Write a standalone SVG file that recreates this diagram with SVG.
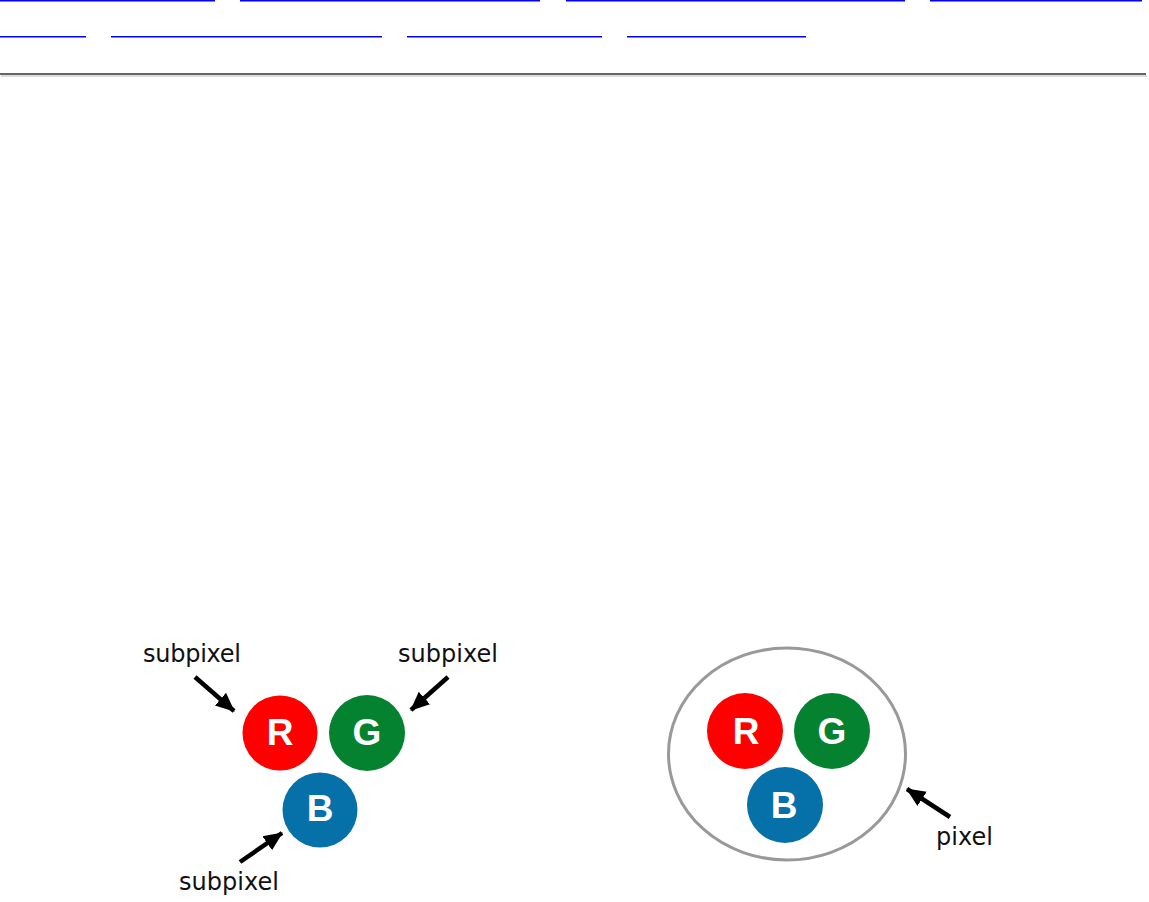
<svg xmlns="http://www.w3.org/2000/svg" width="1149" height="902" viewBox="0 0 1149 902">
  <style>
    .link { fill: #0000ff; }
    .lbl { font-family: "DejaVu Sans", "Liberation Sans", sans-serif; font-size: 24px; fill: #111111; }
    .let { font-family: "Liberation Sans", "DejaVu Sans", sans-serif; font-weight: bold; font-size: 37px; fill: #ffffff; text-anchor: middle; }
    .r { fill: #ff0000; }
    .g { fill: #05822f; }
    .b { fill: #0670a9; }
    .arrow { stroke: #000; stroke-width: 4.5; fill: none; marker-end: url(#head); }
  </style>
  <defs>
    <marker id="head" markerUnits="userSpaceOnUse" markerWidth="20" markerHeight="20" viewBox="0 0 20 20" refX="18" refY="10" orient="auto">
      <path d="M0,1.5 L19,10 L0,18.5 Z" fill="#000"/>
    </marker>
  </defs>
  <rect width="1149" height="902" fill="#ffffff"/>

  <g id="nav-links">
    <rect class="link" x="0" y="0" width="215" height="1.5"/>
    <rect class="link" x="240" y="0" width="300" height="1.5"/>
    <rect class="link" x="566" y="0" width="339" height="1.5"/>
    <rect class="link" x="930" y="0" width="212" height="1.5"/>
    <rect class="link" x="0" y="36" width="86" height="1.5"/>
    <rect class="link" x="111" y="36" width="271" height="1.5"/>
    <rect class="link" x="407" y="36" width="195" height="1.5"/>
    <rect class="link" x="627" y="36" width="179" height="1.5"/>
  </g>

  <g id="rule">
    <rect x="0" y="73" width="1146" height="2" fill="#666666"/>
    <rect x="1" y="75" width="1146" height="2" fill="#dddddd"/>
  </g>

  <g id="subpixel-r">
    <circle class="r" cx="280" cy="733" r="37.5"/>
    <text class="let" x="280" y="745">R</text>
  </g>
  <g id="subpixel-g">
    <circle class="g" cx="367" cy="733" r="38"/>
    <text class="let" x="367" y="745">G</text>
  </g>
  <g id="subpixel-b">
    <circle class="b" cx="320" cy="810" r="37.5"/>
    <text class="let" x="320" y="821">B</text>
  </g>

  <g id="label-subpixel-1">
    <text class="lbl" x="143" y="662" textLength="98">subpixel</text>
  </g>
  <g id="label-subpixel-2">
    <text class="lbl" x="398" y="662" textLength="100">subpixel</text>
  </g>
  <g id="label-subpixel-3">
    <text class="lbl" x="179" y="890" textLength="100">subpixel</text>
  </g>

  <g id="pixel">
    <ellipse cx="787" cy="754" rx="118.5" ry="106" fill="none" stroke="#999999" stroke-width="3"/>
    <g id="pixel-r">
      <circle class="r" cx="745" cy="731" r="38"/>
      <text class="let" x="746" y="744">R</text>
    </g>
    <g id="pixel-g">
      <circle class="g" cx="832" cy="731" r="38"/>
      <text class="let" x="832" y="744">G</text>
    </g>
    <g id="pixel-b">
      <circle class="b" cx="785" cy="805" r="38"/>
      <text class="let" x="784" y="818">B</text>
    </g>
  </g>
  <g id="label-pixel">
    <text class="lbl" x="936" y="845" textLength="57">pixel</text>
  </g>

  <g id="connectors">
    <line class="arrow" x1="195" y1="677" x2="234" y2="711"/>
    <line class="arrow" x1="448" y1="677" x2="411" y2="710"/>
    <line class="arrow" x1="240" y1="862" x2="282" y2="833"/>
    <line class="arrow" x1="950" y1="817" x2="907" y2="789"/>
  </g>
</svg>
